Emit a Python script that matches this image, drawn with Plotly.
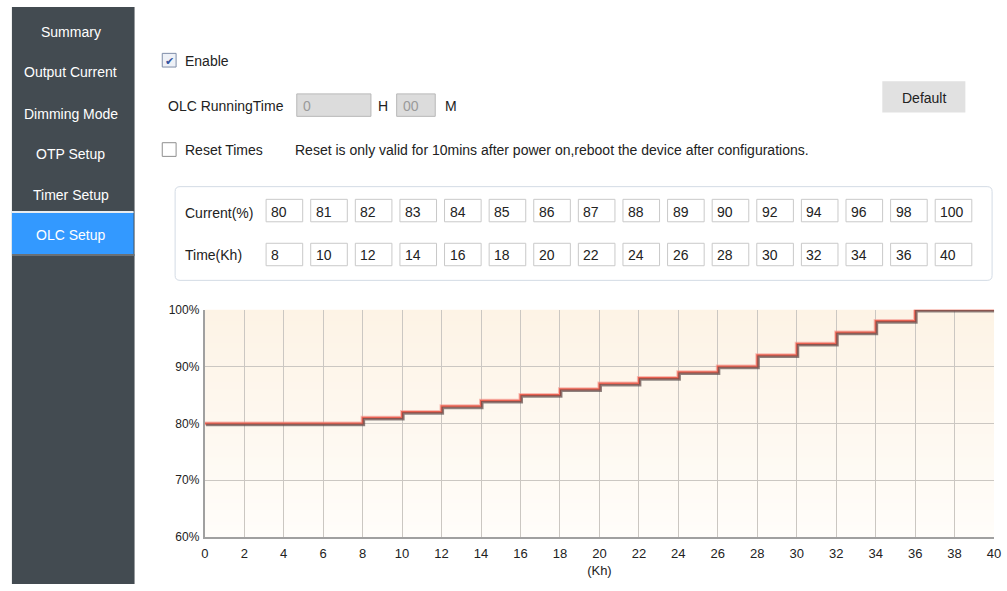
# OLC Setup 화면 재현 (Plotly)

import plotly.graph_objects as go

W, H = 1007, 591
FONT = "Liberation Sans, Arial, sans-serif"

# 데이터
menu_items = ["Summary", "Output Current", "Dimming Mode", "OTP Setup", "Timer Setup", "OLC Setup"]
current_pct = [80, 81, 82, 83, 84, 85, 86, 87, 88, 89, 90, 92, 94, 96, 98, 100]
time_kh = [8, 10, 12, 14, 16, 18, 20, 22, 24, 26, 28, 30, 32, 34, 36, 40]
x_ticks = list(range(0, 41, 2))
y_ticks = [60, 70, 80, 90, 100]
y_tick_text = ["60%", "70%", "80%", "90%", "100%"]

# 계단 그래프용 (0부터 시작)
step_x = [0] + time_kh
step_y = [current_pct[0]] + current_pct


def px(x):
    return x / W


def py(y):
    return 1 - y / H


shapes = []
annotations = []


def rect(x0, y0, x1, y1, fill, line=None, lw=1):
    shapes.append(dict(type="rect", xref="paper", yref="paper",
                       x0=px(x0), x1=px(x1), y0=py(y1), y1=py(y0),
                       fillcolor=fill, line=dict(color=line or fill, width=lw if line else 0),
                       layer="below"))


def text(x, y, s, size=14, color="#222", anchor="left"):
    annotations.append(dict(xref="paper", yref="paper", x=px(x), y=py(y + 1), text=s,
                            showarrow=False, xanchor=anchor, yanchor="middle",
                            font=dict(family=FONT, size=size, color=color)))


def round_rect(x0, y0, x1, y1, r, line):
    # 모서리가 둥근 패널 (픽셀 -> paper 좌표)
    pts = (f"M {px(x0 + r)},{py(y0)} L {px(x1 - r)},{py(y0)} "
           f"Q {px(x1)},{py(y0)} {px(x1)},{py(y0 + r)} L {px(x1)},{py(y1 - r)} "
           f"Q {px(x1)},{py(y1)} {px(x1 - r)},{py(y1)} L {px(x0 + r)},{py(y1)} "
           f"Q {px(x0)},{py(y1)} {px(x0)},{py(y1 - r)} L {px(x0)},{py(y0 + r)} "
           f"Q {px(x0)},{py(y0)} {px(x0 + r)},{py(y0)} Z")
    shapes.append(dict(type="path", xref="paper", yref="paper", path=pts,
                       fillcolor="#ffffff", line=dict(color=line, width=1), layer="below"))


# 사이드바
rect(8, 0, 132, H, "#434b51")
menu_y = [25, 66, 109, 150, 192, 233]
for name, yy in zip(menu_items, menu_y):
    if name == "OLC Setup":
        rect(8, 210, 131, 253, "#3399ff")
        shapes.append(dict(type="line", xref="paper", yref="paper", x0=px(8), x1=px(131),
                           y0=py(210), y1=py(210), line=dict(color="#e8ecf0", width=2)))
        shapes.append(dict(type="line", xref="paper", yref="paper", x0=px(8), x1=px(132),
                           y0=py(254), y1=py(254), line=dict(color="#6a7075", width=2)))
    text(67.5, yy, name, size=14, color="#ffffff", anchor="center")

# 체크박스
for cy, checked in [(54.5, True), (146, False)]:
    rect(160, cy - 7, 174, cy + 7, "#ffffff" if not checked else "#eef1f7",
         line="#8f8f8f" if not checked else "#7f8da8")
    if checked:
        text(167, cy - 0.5, "✔", size=11, color="#3355a0", anchor="center")
text(181, 54, "Enable")
text(181, 145.5, "Reset Times")
text(292, 145.5, "Reset is only valid for 10mins after power on,reboot the device after configurations.")

# OLC RunningTime
text(164, 100.5, "OLC RunningTime")
rect(296, 89, 371, 112, "#dcdcdc", line="#b8b8b8")
text(300, 100.5, "0", color="#9a9a9a")
text(376, 100.5, "H")
rect(397, 89, 436, 112, "#dcdcdc", line="#b8b8b8")
text(401, 100.5, "00", color="#9a9a9a")
text(444, 100.5, "M")

# Default 버튼
rect(888, 76, 972, 108, "#e1e1e1")
text(930, 92, "Default", anchor="center")

# 입력 표
round_rect(173, 184, 999, 280, 5, "#d3dbe5")
text(181, 209.5, "Current(%)")
text(181, 253.5, "Time(Kh)")
for i, (c, t) in enumerate(zip(current_pct, time_kh)):
    bx = 265 + i * 45.1
    rect(bx, 197, bx + 37, 220, "#ffffff", line="#c9c9c9")
    rect(bx, 242, bx + 37, 265, "#ffffff", line="#c9c9c9")
    text(bx + 3, 208.5, str(c))
    text(bx + 3, 253.5, str(t))

# 그래프 영역 (픽셀)
x0p, x1p = 203, 1001
y_top, y_bot = 310, 543
xdom = [px(x0p), px(x1p)]
ydom = [py(y_bot), py(y_top)]
ux = 40 / (x1p - x0p)
uy = 40 / (y_bot - y_top)

# 배경 그라데이션: 격자선 아래에 얇은 띠로 쌓기
c_bot = (255, 253, 250)
c_top = (253, 243, 229)
n_band = 60
for k in range(n_band):
    f = (k + 0.5) / n_band
    col = "rgb(%d,%d,%d)" % tuple(round(a + (b - a) * f) for a, b in zip(c_bot, c_top))
    yb = ydom[0] + (ydom[1] - ydom[0]) * k / n_band
    yt = ydom[0] + (ydom[1] - ydom[0]) * (k + 1.3) / n_band
    shapes.append(dict(type="rect", xref="paper", yref="paper", x0=xdom[0], x1=xdom[1],
                       y0=yb, y1=min(yt, ydom[1]), fillcolor=col, line=dict(width=0), layer="below"))

fig = go.Figure()

# 그림자 (약간 오른쪽 아래로 이동한 축)
fig.add_trace(go.Scatter(
    x=step_x, y=step_y, mode="lines", line=dict(color="rgba(70,60,60,0.6)", width=2.5, shape="vh"),
    xaxis="x2", yaxis="y2", hoverinfo="skip", showlegend=False))

fig.add_trace(go.Scatter(
    x=step_x, y=step_y, mode="lines", line=dict(color="rgba(245,150,140,0.6)", width=4, shape="vh"),
    hoverinfo="skip", showlegend=False))
fig.add_trace(go.Scatter(
    x=step_x, y=step_y, mode="lines", line=dict(color="#ea6353", width=2, shape="vh"),
    showlegend=False, hovertemplate="%{x} Kh<br>%{y}%<extra></extra>"))

axis_common = dict(showgrid=True, gridcolor="#cbc7c2", gridwidth=1, zeroline=False,
                   ticks="", ticklabeloverflow="allow")

fig.update_layout(
    width=W, height=H, autosize=False,
    margin=dict(l=0, r=0, t=0, b=0),
    paper_bgcolor="#ffffff", plot_bgcolor="rgba(0,0,0,0)",
    showlegend=False,
    xaxis=dict(domain=xdom, range=[0, 40], tickvals=x_ticks, ticktext=[str(v) for v in x_ticks],
               showline=True, linecolor="#a0a0a0", linewidth=2, ticklabelstandoff=3,
               tickfont=dict(family=FONT, size=13, color="#222"),
               title=dict(text="(Kh)", font=dict(family=FONT, size=13, color="#222"), standoff=6),
               **axis_common),
    yaxis=dict(domain=ydom, range=[60, 100], tickvals=y_ticks, ticktext=y_tick_text,
               showline=True, linecolor="#a0a0a0", linewidth=2, ticklabelstandoff=1,
               tickfont=dict(family=FONT, size=12, color="#222"), **axis_common),
    xaxis2=dict(domain=xdom, range=[-1.3 * ux, 40 - 1.3 * ux], overlaying="x", visible=False),
    yaxis2=dict(domain=ydom, range=[60 + 1.6 * uy, 100 + 1.6 * uy], overlaying="y", visible=False),
    shapes=shapes,
    annotations=annotations,
)

fig.write_html("out.html", config={"displayModeBar": False},
               post_script="document.body.style.margin='0';document.documentElement.style.overflow='hidden';")
